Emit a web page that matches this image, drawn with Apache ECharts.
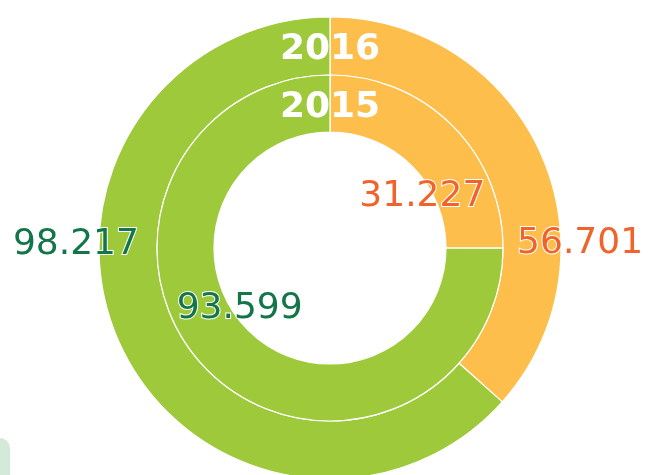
<!DOCTYPE html>
<html>
<head>
<meta charset="utf-8">
<style>
  html, body { margin: 0; padding: 0; background: #fff; }
  #chart { width: 650px; height: 475px; }
</style>
<script src="https://cdn.jsdelivr.net/npm/echarts@6/dist/echarts.min.js"></script>
</head>
<body>
<div id="chart"></div>
<script>
// data
var years = ['2016', '2015'];
var categories = ['A', 'B'];
var values2016 = [56.701, 98.217];
var values2015 = [31.227, 93.599];

var sliceColors = ['#fdbe4b', '#9ec93b'];
var labelColors = ['#f0632a', '#13754a'];

// label nudges away from the default "inside" anchor (dx, dy)
var outerNudge = [[63, 79], [-67, -87]];
var innerNudge = [[-12, 53], [14, -44]];

function makeData(vals){
    var out = [];
    for (var i = 0; i < vals.length; i++) {
        out.push({
            name: categories[i],
            value: vals[i],
            itemStyle: {color: sliceColors[i]},
            label: {color: labelColors[i]}
        });
    }
    return out;
}

function fmt(p){
    return p.value.toFixed(3);
}

var labelBase = {
    show: true,
    position: 'inside',
    formatter: fmt,
    fontFamily: 'DejaVu Sans',
    fontSize: 36,
    textBorderColor: '#ffffff',
    textBorderWidth: 2
};

var myChart = echarts.init(document.getElementById('chart'));

var option = {
    backgroundColor: '#ffffff',
    animation: false,
    graphic: [
        {
            type: 'rect',
            shape: {x: -12, y: 438, width: 22, height: 60, r: 10},
            style: {fill: '#d3ead8'},
            z: 0
        },
        {
            type: 'text',
            x: 330, y: 50,
            z: 10,
            style: {
                text: years[0], fill: '#ffffff',
                font: 'bold 36px "DejaVu Sans"',
                align: 'center', verticalAlign: 'middle'
            }
        },
        {
            type: 'text',
            x: 330, y: 108,
            z: 10,
            style: {
                text: years[1], fill: '#ffffff',
                font: 'bold 36px "DejaVu Sans"',
                align: 'center', verticalAlign: 'middle'
            }
        }
    ],
    series: [
        {
            name: years[0],
            type: 'pie',
            center: [330, 248],
            radius: [173, 231],
            startAngle: 90,
            clockwise: true,
            silent: true,
            itemStyle: {borderColor: '#ffffff', borderWidth: 1.2},
            label: labelBase,
            labelLine: {show: false},
            labelLayout: function(p){
                var n = outerNudge[p.dataIndex];
                return {dx: n[0], dy: n[1]};
            },
            data: makeData(values2016)
        },
        {
            name: years[1],
            type: 'pie',
            center: [330, 248],
            radius: [116, 173],
            startAngle: 90,
            clockwise: true,
            silent: true,
            itemStyle: {borderColor: '#ffffff', borderWidth: 1.2},
            label: labelBase,
            labelLine: {show: false},
            labelLayout: function(p){
                var n = innerNudge[p.dataIndex];
                return {dx: n[0], dy: n[1]};
            },
            data: makeData(values2015)
        }
    ]
};
myChart.setOption(option);
</script>
</body>
</html>
